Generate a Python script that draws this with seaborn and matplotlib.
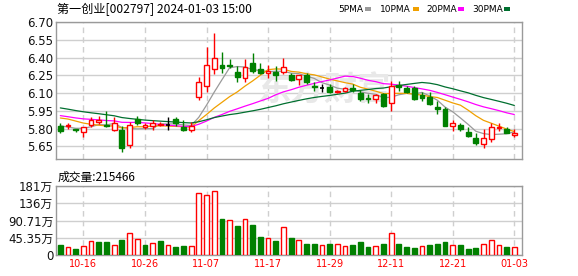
import matplotlib
matplotlib.use("Agg")
import matplotlib.pyplot as plt
import seaborn as sns
import numpy as np
import pandas as pd

# ---------------- data ----------------
dates = ["10-11", "10-12", "10-13", "10-16", "10-17", "10-18", "10-19", "10-20", "10-23", "10-24",
         "10-25", "10-26", "10-27", "10-30", "10-31", "11-01", "11-02", "11-03", "11-06", "11-07",
         "11-08", "11-09", "11-10", "11-13", "11-14", "11-15", "11-16", "11-17", "11-20", "11-21",
         "11-22", "11-23", "11-24", "11-27", "11-28", "11-29", "11-30", "12-01", "12-04", "12-05",
         "12-06", "12-07", "12-08", "12-11", "12-12", "12-13", "12-14", "12-15", "12-18", "12-19",
         "12-20", "12-21", "12-22", "12-25", "12-26", "12-27", "12-28", "12-29", "01-02", "01-03"]

open_ = [5.82, 5.82, 5.80, 5.77, 5.83, 5.86, 5.83, 5.79, 5.79, 5.66,
         5.88, 5.81, 5.82, 5.83, 5.83, 5.88, 5.81, 5.79, 6.07, 6.16,
         6.30, 6.34, 6.34, 6.28, 6.23, 6.35, 6.30, 6.27, 6.28, 6.28,
         6.25, 6.22, 6.25, 6.16, 6.14, 6.15, 6.11, 6.12, 6.14, 6.10,
         6.06, 6.05, 6.09, 6.02, 6.17, 6.14, 6.14, 6.08, 6.07, 5.98,
         5.97, 5.82, 5.83, 5.77, 5.72, 5.67, 5.71, 5.805, 5.80, 5.745]
high = [5.85, 5.85, 5.80, 5.81, 5.90, 5.91, 5.95, 5.90, 5.82, 5.86,
        5.91, 5.85, 5.87, 5.86, 5.90, 5.90, 5.87, 5.86, 6.24, 6.49,
        6.61, 6.45, 6.39, 6.33, 6.39, 6.44, 6.35, 6.34, 6.33, 6.40,
        6.27, 6.25, 6.27, 6.19, 6.18, 6.18, 6.125, 6.15, 6.18, 6.13,
        6.09, 6.09, 6.10, 6.20, 6.20, 6.16, 6.16, 6.11, 6.11, 6.03,
        5.98, 5.87, 5.85, 5.81, 5.76, 5.80, 5.85, 5.85, 5.81, 5.80]
low = [5.76, 5.80, 5.77, 5.73, 5.81, 5.84, 5.81, 5.78, 5.60, 5.64,
       5.83, 5.80, 5.79, 5.82, 5.79, 5.82, 5.78, 5.77, 6.04, 6.11,
       6.26, 6.27, 6.31, 6.19, 6.19, 6.27, 6.26, 6.23, 6.20, 6.26,
       6.20, 6.17, 6.18, 6.12, 6.11, 6.10, 6.10, 6.11, 6.11, 6.03,
       6.02, 6.02, 5.98, 5.95, 6.12, 6.10, 6.04, 6.03, 6.00, 5.92,
       5.82, 5.78, 5.78, 5.73, 5.66, 5.64, 5.69, 5.78, 5.76, 5.73]
close = [5.78, 5.83, 5.79, 5.81, 5.87, 5.87, 5.82, 5.85, 5.64, 5.83,
         5.85, 5.83, 5.85, 5.84, 5.83, 5.85, 5.79, 5.82, 6.19, 6.34,
         6.40, 6.31, 6.33, 6.24, 6.32, 6.29, 6.27, 6.29, 6.25, 6.32,
         6.21, 6.25, 6.19, 6.15, 6.14, 6.11, 6.12, 6.14, 6.13, 6.05,
         6.05, 6.08, 5.99, 6.16, 6.15, 6.11, 6.05, 6.06, 6.01, 5.97,
         5.82, 5.85, 5.80, 5.74, 5.68, 5.72, 5.81, 5.815, 5.76, 5.76]
# closes before the visible window (needed for the moving averages at the left edge)
prior_close = [6.15, 6.14, 6.12, 6.13, 6.10, 6.08, 6.11, 6.09, 6.07, 6.06,
               6.02, 5.99, 5.97, 5.95, 5.96, 5.93, 5.91, 5.88, 5.85, 5.84,
               5.92, 5.96, 5.98, 5.97, 5.945, 5.89, 5.84, 5.81, 5.805]

volume_wan = [27.4, 21, 17, 23, 37, 33, 35, 26.5, 40.6, 58,
              42.5, 27, 32, 38, 26.5, 22, 24.7, 24, 162, 157.5,
              167, 94, 93, 75, 95.6, 78, 48.6, 45, 38, 74,
              46, 40, 30, 30, 27, 30, 29, 24, 27, 33,
              22, 24, 30, 58, 30, 22, 19.5, 24, 25, 30,
              35, 26.5, 25, 17, 19.5, 29, 40, 26.5, 22, 21.5]
vol_up = [0, 1, 0, 1, 1, 0, 0, 1, 0, 1,
          1, 0, 1, 0, 1, 0, 0, 1, 1, 1,
          1, 0, 1, 0, 1, 0, 0, 1, 0, 1,
          0, 1, 0, 0, 1, 0, 1, 1, 0, 0,
          0, 1, 0, 1, 0, 0, 0, 1, 0, 0,
          0, 1, 0, 0, 0, 1, 1, 1, 0, 1]

price_ticks = [5.65, 5.80, 5.95, 6.10, 6.25, 6.40, 6.55, 6.70]
vol_ticks = [0, 45.355, 90.71, 136.065, 181.42]
vol_tick_labels = ["0", "45.35万", "90.71万", "136万", "181万"]
ma_windows = [5, 10, 20, 30]
ma_names = ["5PMA", "10PMA", "20PMA", "30PMA"]
ma_colors = ["#9a9a9a", "#f0a000", "#ff00ff", "#006f2f"]
title_text = "第一创业[002797] 2024-01-03 15:00"
vol_title = "成交量:215466"

# ---------------- style ----------------
sns.set_style("white")
plt.rcParams["font.family"] = ["DejaVu Sans", "Noto Sans CJK SC"]
CJK = ["Noto Sans CJK SC", "DejaVu Sans"]
RED = "#ff0000"
GREEN = "#008000"
GRID = "#cfcfcf"
FRAME = "#9a9a9a"

W, H = 578, 276
fig = plt.figure(figsize=(W / 100, H / 100), dpi=100)
L, R = 56, 522
ax = fig.add_axes([L / W, 1 - 159 / H, (R - L) / W, (159 - 22) / H])
axv = fig.add_axes([L / W, 1 - 255 / H, (R - L) / W, (255 - 186) / H])

n = len(close)
idx = np.arange(n)
label_idx = list(range(3, n, 8))
bw = 0.62

# ---------------- candles ----------------
for i, o, h, l, c in zip(idx, open_, high, low, close):
    if c > o:
        col = RED
    elif c < o:
        col = GREEN
    else:
        col = "#000000"
    ax.vlines(i, l, h, color=col, lw=1, zorder=3)
    if c == o:
        ax.hlines(c, i - bw / 2, i + bw / 2, color=col, lw=1.2, zorder=4)
    else:
        ax.bar(i, abs(c - o), bottom=min(o, c), width=bw,
               facecolor="white" if c > o else GREEN, edgecolor=col, lw=1, zorder=4)

# ---------------- moving averages ----------------
full = pd.Series(prior_close + close)
for w, name, col in zip(ma_windows, ma_names, ma_colors):
    ma = full.rolling(w).mean().iloc[len(prior_close):].to_numpy()
    sns.lineplot(x=idx, y=ma, ax=ax, color=col, lw=0.9, zorder=2, legend=False)

ax.set_xlim(-0.56, n + 0.0)
ax.set_ylim(6.70 - 137 / 118.5, 6.70)
ax.set_yticks(price_ticks)
ax.set_yticklabels([f"{t:.2f}" for t in price_ticks], fontsize=8.5, color="#111111")
ax.set_xticks(label_idx)
ax.set_xticklabels([])
ax.yaxis.grid(True, color=GRID, lw=1, ls="-")
ax.xaxis.grid(True, color=GRID, lw=1, ls=(0, (4, 3)))
ax.set_axisbelow(True)
ax.tick_params(length=0, pad=2)
ax.set_xlabel("")
ax.set_ylabel("")

# watermark
ax.text(0.56, 0.67, "东方财富", transform=fig.transFigure, fontsize=24, color="#e8e8e8",
        family=CJK, ha="center", va="center", zorder=1, style="italic", fontweight="bold")

# ---------------- volume ----------------
for i, v, u in zip(idx, volume_wan, vol_up):
    if u:
        axv.bar(i, v, width=bw, facecolor="white", edgecolor=RED, lw=1, zorder=3)
    else:
        axv.bar(i, v, width=bw, facecolor=GREEN, edgecolor=GREEN, lw=1, zorder=3)
axv.set_xlim(ax.get_xlim())
axv.set_ylim(0, vol_ticks[-1])
axv.set_yticks(vol_ticks)
axv.set_yticklabels(vol_tick_labels, fontsize=8.5, color="#111111")
axv.set_xticks(label_idx)
axv.set_xticklabels([dates[k] for k in label_idx], fontsize=7, color=RED)
axv.yaxis.grid(True, color=GRID, lw=1, ls="-")
axv.xaxis.grid(True, color=GRID, lw=1, ls=(0, (4, 3)))
axv.set_axisbelow(True)
axv.tick_params(length=0, pad=2)
axv.tick_params(axis="x", pad=3)

for a in (ax, axv):
    for s in a.spines.values():
        s.set_color(FRAME)
        s.set_linewidth(1)
        s.set_visible(True)

# ---------------- texts ----------------
fig.text(57 / W, 1 - 9.5 / H, title_text, fontsize=8.7, family=CJK, ha="left", va="center", color="#000000")
fig.text(58 / W, 1 - 177.5 / H, vol_title, fontsize=8.5, family=CJK, ha="left", va="center", color="#000000")

leg_x = [338, 380, 426, 472]
sw_x = [365, 413, 458, 504]
for name, col, tx, sx in zip(ma_names, ma_colors, leg_x, sw_x):
    fig.text(tx / W, 1 - 9 / H, name, fontsize=6.5, ha="left", va="center", color="#000000")
    fig.patches.append(plt.Rectangle((sx / W, 1 - 10.5 / H), 6 / W, 3 / H, transform=fig.transFigure,
                                     facecolor=col, edgecolor="none", figure=fig))

fig.savefig("out.png", dpi=100)
